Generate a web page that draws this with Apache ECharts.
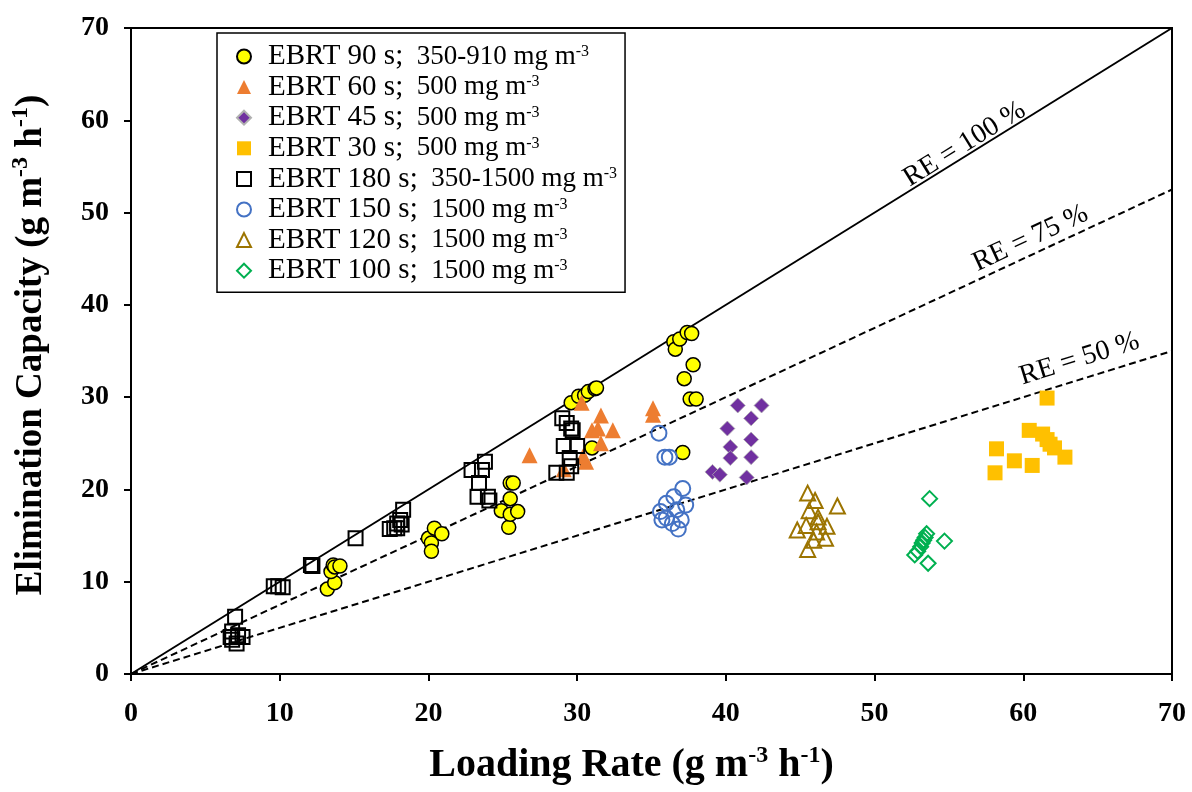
<!DOCTYPE html>
<html>
<head>
<meta charset="utf-8">
<title>Elimination Capacity vs Loading Rate</title>
<script src="https://cdn.jsdelivr.net/npm/echarts@6/dist/echarts.min.js"></script>
<style>
  html, body { margin: 0; padding: 0; background: #fff; }
  #chart { width: 1192px; height: 792px; }
</style>
</head>
<body>
<div id="chart"></div>
<script>
'use strict';

var serif = "'Liberation Serif', 'Times New Roman', serif";

// series names + inlet concentration shown in the legend
var seriesNames = ['EBRT 90 s', 'EBRT 60 s', 'EBRT 45 s', 'EBRT 30 s',
                   'EBRT 180 s', 'EBRT 150 s', 'EBRT 120 s', 'EBRT 100 s'];
var seriesConc = ['350-910', '500', '500', '500', '350-1500', '1500', '1500', '1500'];

// [loading rate, elimination capacity]
var ebrt90 = [
  [13.2, 9.2], [13.7, 9.9], [13.45, 11.1], [13.6, 11.8], [13.7, 11.6], [14.05, 11.7],
  [20.0, 14.7], [20.2, 14.2], [20.2, 13.3], [20.4, 15.8], [20.9, 15.2],
  [24.9, 17.7], [25.4, 15.9], [25.5, 17.3], [25.5, 19.0], [25.5, 20.7], [25.7, 20.7], [26.0, 17.6],
  [29.6, 29.4], [30.1, 30.1], [30.5, 30.2], [30.75, 30.6], [31.2, 30.9], [31.3, 31.0], [31.0, 24.5],
  [36.5, 36.0], [36.6, 35.2], [36.9, 36.3], [37.4, 37.0], [37.7, 36.9], [37.8, 33.5],
  [37.2, 32.0], [37.6, 29.8], [38.0, 29.8], [37.1, 24.0]
];
var ebrt60 = [
  [26.8, 23.7], [29.1, 22.2], [30.3, 29.4], [30.4, 23.6], [30.6, 23.0], [31.0, 26.4],
  [31.4, 26.6], [31.6, 28.0], [31.6, 25.0], [32.4, 26.4], [35.1, 28.8], [35.1, 28.1]
];
var ebrt45 = [
  [39.1, 21.9], [39.6, 21.6], [40.1, 26.6], [40.3, 24.6], [40.3, 23.4], [40.8, 29.1],
  [41.4, 21.3], [41.7, 27.7], [41.7, 25.4], [41.7, 23.5], [42.4, 29.1]
];
var ebrt30 = [
  [58.1, 21.8], [58.2, 24.4], [59.4, 23.1], [60.4, 26.4], [60.6, 22.6], [61.3, 26.0],
  [61.6, 25.4], [61.6, 29.9], [61.8, 24.9], [62.1, 24.5], [62.8, 23.5]
];
var ebrt180 = [
  [6.7, 4.0], [6.8, 4.6], [6.8, 3.7], [7.0, 6.2], [7.1, 3.3], [7.2, 4.2], [7.5, 4.0],
  [9.6, 9.5], [9.9, 9.5], [10.2, 9.4],
  [12.1, 11.8], [12.2, 11.7],
  [15.1, 14.7],
  [17.4, 15.7], [17.7, 15.8], [17.9, 15.8], [17.9, 16.3], [18.1, 16.7], [18.2, 16.2], [18.3, 17.8],
  [22.9, 22.1], [23.3, 19.2], [23.4, 20.7], [23.6, 22.1], [23.8, 23.0], [24.0, 19.2], [24.1, 18.8],
  [28.6, 21.8], [29.0, 27.7], [29.1, 24.7], [29.3, 27.2], [29.3, 21.8], [29.5, 23.4],
  [29.6, 26.6], [29.6, 22.5], [29.7, 26.4], [30.0, 24.7]
];
var ebrt150 = [
  [35.5, 26.1], [35.9, 23.5], [36.2, 23.5], [37.1, 20.1], [36.5, 19.2], [36.0, 18.5], [37.3, 18.3],
  [35.6, 17.6], [36.7, 17.8], [36.0, 16.9], [37.0, 16.7], [36.4, 16.3], [36.8, 15.7], [35.7, 16.7]
];
var ebrt120 = [
  [45.5, 19.6], [46.0, 18.8], [47.5, 18.2], [45.6, 17.7], [46.2, 17.0], [46.2, 16.5], [45.4, 16.1],
  [46.8, 16.0], [44.8, 15.6], [46.1, 15.4], [45.9, 14.5], [46.7, 14.7], [45.5, 13.5]
];
var ebrt100 = [
  [53.7, 19.0], [54.7, 14.4], [53.6, 12.0], [53.5, 15.2], [53.4, 14.8],
  [53.3, 14.5], [53.2, 14.2], [53.1, 13.8], [52.9, 13.3], [52.7, 12.9]
];

// removal efficiency reference lines: EC = RE * LR
var reLevels = [1, 0.75, 0.5];
var reLabels = ['RE = 100 %', 'RE = 75 %', 'RE = 50 %'];
var reLabelAt = [55.2, 59.8, 63.3];   // loading rate where each label sits
var axisMax = 70;

var chart = echarts.init(document.getElementById('chart'));

function scatter(i, data, symbol, size, style) {
  return {
    name: seriesNames[i],
    type: 'scatter',
    data: data,
    symbol: symbol,
    symbolSize: size,
    itemStyle: style,
    z: 3,
    emphasis: { disabled: true }
  };
}

var lineSeries = reLevels.map(function (k, i) {
  return {
    name: reLabels[i],
    type: 'line',
    data: [[0, 0], [axisMax, axisMax * k]],
    symbol: 'none',
    silent: true,
    z: 1,
    lineStyle: { color: '#000', width: 2, type: k === 1 ? 'solid' : [7, 4] }
  };
});

var axisText = { fontFamily: serif, fontWeight: 'bold', fontSize: 28, color: '#000' };
function nameRich(size) {
  return {
    b: { fontFamily: serif, fontWeight: 'bold', fontSize: size, color: '#000', lineHeight: 44 },
    s: { fontFamily: serif, fontWeight: 'bold', fontSize: 24, color: '#000', verticalAlign: 'top', lineHeight: 30 }
  };
}

var option = {
  animation: false,
  backgroundColor: '#fff',
  grid: {
    left: 131, right: 20, top: 28, bottom: 118,
    show: true, borderColor: '#000', borderWidth: 2
  },
  legend: {
    data: seriesNames,
    orient: 'vertical',
    left: 217, top: 33,
    padding: [9, 8, 7, 19],
    itemGap: 1.6,
    itemWidth: 14, itemHeight: 14,
    borderColor: '#000', borderWidth: 1.5,
    backgroundColor: '#fff',
    formatter: function (name) {
      var c = seriesConc[seriesNames.indexOf(name)];
      return '{a|' + name + ';}{b|  ' + c + ' mg m}{s|-3}';
    },
    textStyle: {
      rich: {
        a: { fontFamily: serif, fontSize: 29, color: '#000', lineHeight: 26, padding: [0, 0, 0, 12] },
        b: { fontFamily: serif, fontSize: 27, color: '#000', lineHeight: 26 },
        s: { fontFamily: serif, fontSize: 16, color: '#000', verticalAlign: 'top', lineHeight: 14 }
      }
    }
  },
  xAxis: {
    type: 'value', min: 0, max: axisMax, interval: 10,
    name: '{b|Loading Rate (g m}{s|-3}{b| h}{s|-1}{b|)}',
    nameLocation: 'middle', nameGap: 70,
    nameTextStyle: { rich: nameRich(40), padding: [0, 40, 0, 0] },
    axisLine: { lineStyle: { color: '#000', width: 2 } },
    axisTick: { show: true, length: 7, lineStyle: { color: '#000', width: 2 } },
    axisLabel: Object.assign({ margin: 26 }, axisText),
    splitLine: { show: false }
  },
  yAxis: {
    type: 'value', min: 0, max: axisMax, interval: 10,
    name: '{b|Elimination Capacity (g m}{s|-3}{b| h}{s|-1}{b|)}',
    nameLocation: 'middle', nameGap: 78, nameRotate: 90,
    nameTextStyle: { rich: nameRich(37), padding: [0, 0, 0, 12] },
    axisLine: { lineStyle: { color: '#000', width: 2 } },
    axisTick: { show: true, length: 7, lineStyle: { color: '#000', width: 2 } },
    axisLabel: Object.assign({ margin: 22 }, axisText),
    splitLine: { show: false }
  },
  series: lineSeries.concat([
    scatter(0, ebrt90, 'circle', 14, { color: '#FFFF00', borderColor: '#000', borderWidth: 1.5, opacity: 1 }),
    scatter(1, ebrt60, 'triangle', 16, { color: '#ED7D31', opacity: 1 }),
    scatter(2, ebrt45, 'diamond', 15, { color: '#7030A0', borderColor: '#B0B0B0', borderWidth: 0.8, opacity: 1 }),
    scatter(3, ebrt30, 'rect', 15, { color: '#FFC000', opacity: 1 }),
    scatter(4, ebrt180, 'rect', 14, { color: 'rgba(255,255,255,0)', borderColor: '#000', borderWidth: 2, opacity: 1 }),
    scatter(5, ebrt150, 'circle', 15, { color: 'rgba(255,255,255,0)', borderColor: '#4472C4', borderWidth: 2, opacity: 1 }),
    scatter(6, ebrt120, 'triangle', 15, { color: 'rgba(255,255,255,0)', borderColor: '#9C7400', borderWidth: 2, opacity: 1 }),
    scatter(7, ebrt100, 'diamond', 15, { color: 'rgba(255,255,255,0)', borderColor: '#00B050', borderWidth: 2, opacity: 1 })
  ])
};

chart.setOption(option);

// RE labels rotated along their lines, placed just above them
var labels = reLevels.map(function (k, i) {
  var x = reLabelAt[i];
  var p = chart.convertToPixel({ gridIndex: 0 }, [x, k * x]);
  var p2 = chart.convertToPixel({ gridIndex: 0 }, [axisMax, k * axisMax]);
  var p0 = chart.convertToPixel({ gridIndex: 0 }, [0, 0]);
  var ang = Math.atan2(p0[1] - p2[1], p2[0] - p0[0]);
  var off = 24;
  return {
    type: 'text',
    x: p[0] + Math.sin(ang) * off,
    y: p[1] - Math.cos(ang) * off,
    rotation: ang,
    z: 10,
    style: {
      text: reLabels[i],
      fontFamily: serif,
      fontSize: 28,
      fill: '#000',
      align: 'center',
      verticalAlign: 'middle'
    }
  };
});
chart.setOption({ graphic: labels });
</script>
</body>
</html>
